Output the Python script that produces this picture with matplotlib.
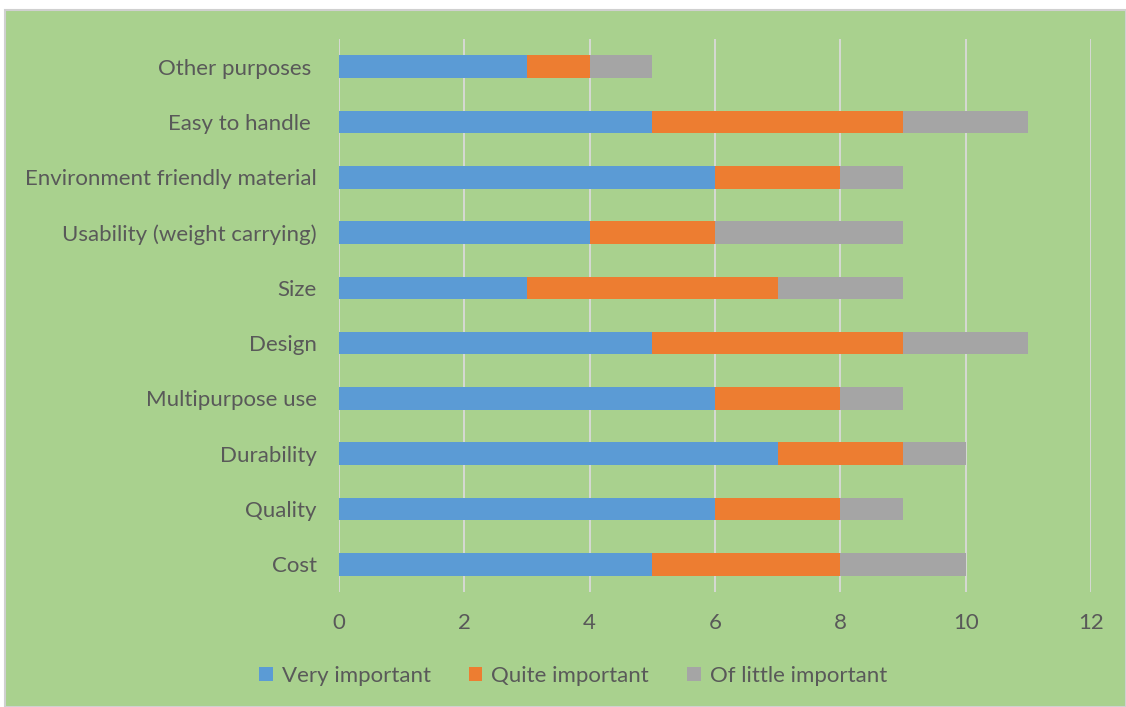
import matplotlib
matplotlib.use("Agg")
import matplotlib.pyplot as plt
from matplotlib.patches import Rectangle

categories = ["Cost", "Quality", "Durability", "Multipurpose use", "Design", "Size",
              "Usability (weight carrying)", "Environment friendly material",
              "Easy to handle ", "Other purposes "]
very_important = [5, 6, 7, 6, 5, 3, 4, 6, 5, 3]
quite_important = [3, 2, 2, 2, 4, 4, 2, 2, 4, 1]
little_important = [2, 1, 1, 1, 2, 2, 3, 1, 2, 1]
series_names = ["Very important", "Quite important", "Of little important"]
colors = ["#5B9BD5", "#ED7D31", "#A5A5A5"]
xticks = [0, 2, 4, 6, 8, 10, 12]

plt.rcParams['font.family'] = ['Lato', 'DejaVu Sans']
text_color = "#595959"
green = "#A9D18E"
fs = 16

W, H = 1126, 707
fig = plt.figure(figsize=(W/100, H/100), dpi=100)
fig.patch.set_facecolor("white")
bg = Rectangle((5/W, 0), 1 - 5/W, 1 - 10/H, transform=fig.transFigure,
               facecolor=green, edgecolor="#D0D0D0", linewidth=1.5, zorder=-10)
fig.patches.append(bg)

ax = fig.add_axes([339/W, 1 - 592/H, (1091-339)/W, (592-39)/H])
ax.set_zorder(1)
ax.patch.set_alpha(0)

y = list(range(len(categories)))
left = [0]*len(categories)
for vals, name, c in zip([very_important, quite_important, little_important], series_names, colors):
    ax.barh(y, vals, left=left, height=0.41, color=c, label=name, zorder=3)
    left = [l + v for l, v in zip(left, vals)]

ax.set_xlim(0, 12)
ax.set_ylim(-0.5, len(categories) - 0.5)
ax.set_xticks(xticks)
ax.set_xticklabels([str(t) for t in xticks])
ax.set_yticks(y)
ax.set_yticklabels(categories)
ax.grid(axis="x", color="#D9D9D9", linewidth=1.3, zorder=1)
ax.set_axisbelow(True)
for s in ax.spines.values():
    s.set_visible(False)
ax.tick_params(axis="both", length=0, labelcolor=text_color, labelsize=fs)
ax.tick_params(axis="x", pad=15)
ax.tick_params(axis="y", pad=16)

leg = fig.legend(loc="center", bbox_to_anchor=(573/W, 1 - 676/H), ncol=3, frameon=False,
                 fontsize=fs, handlelength=0.62, handleheight=0.62, handletextpad=0.4,
                 columnspacing=1.7, labelcolor=text_color)

fig.savefig("out.png", dpi=100, facecolor=fig.get_facecolor())
